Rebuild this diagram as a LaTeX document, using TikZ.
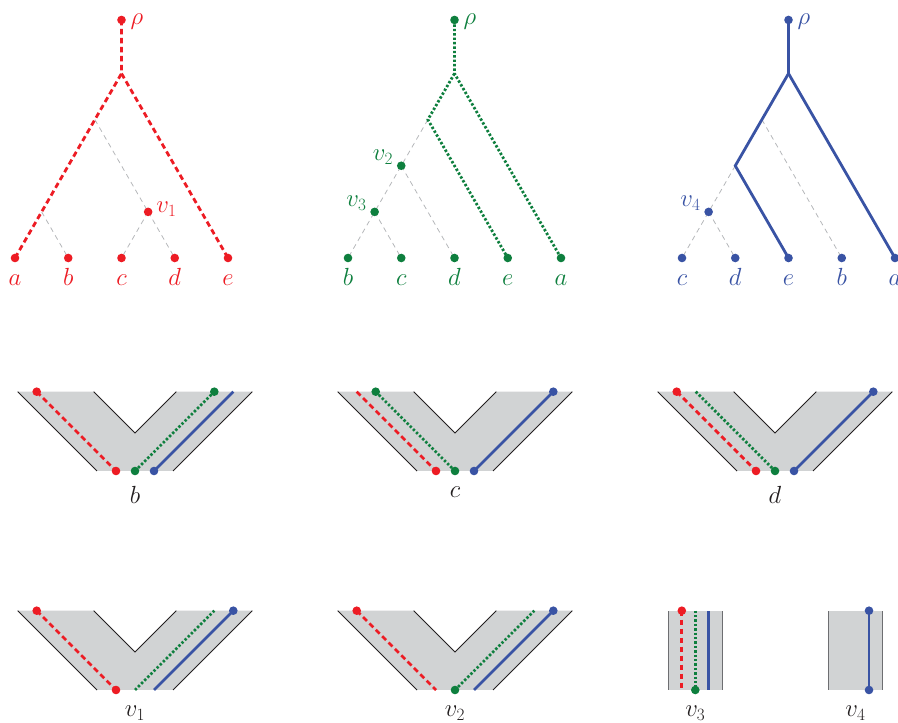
\documentclass[tikz,border=0pt]{standalone}
\usepackage{xcolor}
\definecolor{cred}{HTML}{ED1C24}
\definecolor{cgreen}{HTML}{0E7F3E}
\definecolor{cblue}{HTML}{3953A4}
\definecolor{cfill}{HTML}{D1D3D4}
\definecolor{cgrayl}{HTML}{B5B7BA}
\definecolor{cedge}{HTML}{6D6E71}
\definecolor{ctext}{HTML}{231F20}
\tikzset{
  redpath/.style={cred, line width=2.8bp, dash pattern=on 5.5bp off 3.5bp},
  greenpath/.style={cgreen, line width=2.8bp, dash pattern=on 2.4bp off 2bp},
  bluepath/.style={cblue, line width=2.8bp},
  graypath/.style={cgrayl, line width=0.8bp, dash pattern=on 5bp off 4bp},
  dotnode/.style={circle, inner sep=0pt, minimum size=8.6bp},
  lbl/.style={font=\fontsize{24}{28}\selectfont, inner sep=0pt},
  paneledge/.style={ctext, line width=0.8bp},
  rectedge/.style={cedge, line width=1.5bp},
  vband/.pic={
    \fill[cfill] (-117.3,79.3) -- (-38,0) -- (38,0) -- (117.3,79.3) -- (41.3,79.3) -- (0,38) -- (-41.3,79.3) -- cycle;
    \draw[paneledge] (-117.3,79.3) -- (-38,0);
    \draw[paneledge] (38,0) -- (117.3,79.3);
    \draw[paneledge] (-41.3,79.3) -- (0,38) -- (41.3,79.3);
  },
}
\begin{document}
\begin{tikzpicture}[x=1bp,y=1bp]
\useasboundingbox (0,0) rectangle (898,723);

% ---------------- Tree 1 (red) ----------------
\begin{scope}[shift={(15bp,465bp)}, x=53.25bp, y=53.25bp]
  \coordinate (A1) at (0,0);
  \coordinate (B1) at (1,0);
  \coordinate (C1) at (2,0);
  \coordinate (D1) at (3,0);
  \coordinate (E1) at (4,0);
  \coordinate (ab1) at (0.5,0.866);
  \coordinate (v1) at (2.5,0.866);
  \coordinate (abcd1) at (1.5,2.598);
  \coordinate (r1) at (2,3.464);
  \coordinate (rho1) at (2,4.47);
  \draw[graypath] (ab1) -- (B1);
  \draw[graypath] (abcd1) -- (v1);
  \draw[graypath] (v1) -- (C1);
  \draw[graypath] (v1) -- (D1);
  \draw[redpath] (rho1) -- (r1) -- (A1);
  \draw[redpath] (r1) -- (E1);
  \foreach \n in {A1,B1,C1,D1,E1,v1,rho1} \node[dotnode, fill=cred] (d\n) at (\n) {};
  \node[lbl, text=cred, anchor=base] (lA1) at ([yshift=-28bp]A1) {$a$};
  \node[lbl, text=cred, anchor=base] (lB1) at ([yshift=-28bp]B1) {$b$};
  \node[lbl, text=cred, anchor=base] (lC1) at ([yshift=-28bp]C1) {$c$};
  \node[lbl, text=cred, anchor=base] (lD1) at ([yshift=-28bp]D1) {$d$};
  \node[lbl, text=cred, anchor=base] (lE1) at ([yshift=-28bp]E1) {$e$};
  \node[lbl, text=cred, anchor=base west] (lrho1) at ([xshift=9bp,yshift=-4.5bp]rho1) {$\rho$};
  \node[lbl, text=cred, anchor=base west] (lv1) at ([xshift=8bp,yshift=-1bp]v1) {$v_1$};
\end{scope}

% ---------------- Tree 2 (green) ----------------
\begin{scope}[shift={(348bp,465bp)}, x=53.25bp, y=53.25bp]
  \coordinate (B2) at (0,0);
  \coordinate (C2) at (1,0);
  \coordinate (D2) at (2,0);
  \coordinate (E2) at (3,0);
  \coordinate (A2) at (4,0);
  \coordinate (v3) at (0.5,0.866);
  \coordinate (v2) at (1,1.732);
  \coordinate (j2) at (1.5,2.598);
  \coordinate (r2) at (2,3.464);
  \coordinate (rho2) at (2,4.47);
  \draw[graypath] (j2) -- (v2) -- (v3) -- (B2);
  \draw[graypath] (v3) -- (C2);
  \draw[graypath] (v2) -- (D2);
  \draw[greenpath] (rho2) -- (r2) -- (A2);
  \draw[greenpath] (r2) -- (j2) -- (E2);
  \foreach \n in {A2,B2,C2,D2,E2,v2,v3,rho2} \node[dotnode, fill=cgreen] (d\n) at (\n) {};
  \node[lbl, text=cgreen, anchor=base] (lB2) at ([yshift=-28bp]B2) {$b$};
  \node[lbl, text=cgreen, anchor=base] (lC2) at ([yshift=-28bp]C2) {$c$};
  \node[lbl, text=cgreen, anchor=base] (lD2) at ([yshift=-28bp]D2) {$d$};
  \node[lbl, text=cgreen, anchor=base] (lE2) at ([yshift=-28bp]E2) {$e$};
  \node[lbl, text=cgreen, anchor=base] (lA2) at ([yshift=-28bp]A2) {$a$};
  \node[lbl, text=cgreen, anchor=base west] (lrho2) at ([xshift=9bp,yshift=-4.5bp]rho2) {$\rho$};
  \node[lbl, text=cgreen, anchor=base east] (lv2) at ([xshift=-8bp,yshift=5bp]v2) {$v_2$};
  \node[lbl, text=cgreen, anchor=base east] (lv3) at ([xshift=-8bp,yshift=5bp]v3) {$v_3$};
\end{scope}

% ---------------- Tree 3 (blue) ----------------
\begin{scope}[shift={(682bp,465bp)}, x=53.25bp, y=53.25bp]
  \coordinate (C3) at (0,0);
  \coordinate (D3) at (1,0);
  \coordinate (E3) at (2,0);
  \coordinate (B3) at (3,0);
  \coordinate (A3) at (4,0);
  \coordinate (v4) at (0.5,0.866);
  \coordinate (k3) at (1,1.732);
  \coordinate (j3) at (1.5,2.598);
  \coordinate (r3) at (2,3.464);
  \coordinate (rho3) at (2,4.47);
  \draw[graypath] (j3) -- (B3);
  \draw[graypath] (k3) -- (v4) -- (C3);
  \draw[graypath] (v4) -- (D3);
  \draw[bluepath] (rho3) -- (r3) -- (A3);
  \draw[bluepath] (r3) -- (k3) -- (E3);
  \foreach \n in {A3,B3,C3,D3,E3,v4,rho3} \node[dotnode, fill=cblue] (d\n) at (\n) {};
  \node[lbl, text=cblue, anchor=base] (lC3) at ([yshift=-28bp]C3) {$c$};
  \node[lbl, text=cblue, anchor=base] (lD3) at ([yshift=-28bp]D3) {$d$};
  \node[lbl, text=cblue, anchor=base] (lE3) at ([yshift=-28bp]E3) {$e$};
  \node[lbl, text=cblue, anchor=base] (lB3) at ([yshift=-28bp]B3) {$b$};
  \node[lbl, text=cblue, anchor=base] (lA3) at ([yshift=-28bp]A3) {$a$};
  \node[lbl, text=cblue, anchor=base west] (lrho3) at ([xshift=9bp,yshift=-4.5bp]rho3) {$\rho$};
  \node[lbl, text=cblue, anchor=base east] (lv4) at ([xshift=-8bp,yshift=5bp]v4) {$v_4$};
\end{scope}

% ---------------- Panel b ----------------
\begin{scope}[shift={(135bp,252bp)}]
  \pic (pb) {vband};
  \coordinate (pbR0) at (-19,0);  \coordinate (pbR1) at (-98.3,79.3);
  \coordinate (pbG0) at (0,0);    \coordinate (pbG1) at (79.3,79.3);
  \coordinate (pbB0) at (19,0);   \coordinate (pbB1) at (98.3,79.3);
  \draw[redpath] (pbR1) -- (pbR0);
  \draw[greenpath] (pbG0) -- (pbG1);
  \draw[bluepath] (pbB0) -- (pbB1);
  \node[dotnode, fill=cred] (dpbR0) at (pbR0) {};
  \node[dotnode, fill=cred] (dpbR1) at (pbR1) {};
  \node[dotnode, fill=cgreen] (dpbG0) at (pbG0) {};
  \node[dotnode, fill=cgreen] (dpbG1) at (pbG1) {};
  \node[dotnode, fill=cblue] (dpbB0) at (pbB0) {};
  \node[lbl, text=ctext, anchor=base] (lpb) at (0,-32.3) {$b$};
\end{scope}

% ---------------- Panel c ----------------
\begin{scope}[shift={(455bp,252bp)}]
  \pic (pc) {vband};
  \coordinate (pcR0) at (-19,0);  \coordinate (pcR1) at (-98.3,79.3);
  \coordinate (pcG0) at (0,0);    \coordinate (pcG1) at (-79.3,79.3);
  \coordinate (pcB0) at (19,0);   \coordinate (pcB1) at (98.3,79.3);
  \draw[redpath] (pcR1) -- (pcR0);
  \draw[greenpath] (pcG1) -- (pcG0);
  \draw[bluepath] (pcB0) -- (pcB1);
  \node[dotnode, fill=cred] (dpcR0) at (pcR0) {};
  \node[dotnode, fill=cgreen] (dpcG0) at (pcG0) {};
  \node[dotnode, fill=cgreen] (dpcG1) at (pcG1) {};
  \node[dotnode, fill=cblue] (dpcB0) at (pcB0) {};
  \node[dotnode, fill=cblue] (dpcB1) at (pcB1) {};
  \node[lbl, text=ctext, anchor=base] (lpc) at (0,-26.7) {$c$};
\end{scope}

% ---------------- Panel d ----------------
\begin{scope}[shift={(775bp,252bp)}]
  \pic (pd) {vband};
  \coordinate (pdR0) at (-19,0);  \coordinate (pdR1) at (-98.3,79.3);
  \coordinate (pdG0) at (0,0);    \coordinate (pdG1) at (-79.3,79.3);
  \coordinate (pdB0) at (19,0);   \coordinate (pdB1) at (98.3,79.3);
  \draw[redpath] (pdR1) -- (pdR0);
  \draw[greenpath] (pdG1) -- (pdG0);
  \draw[bluepath] (pdB0) -- (pdB1);
  \node[dotnode, fill=cred] (dpdR0) at (pdR0) {};
  \node[dotnode, fill=cred] (dpdR1) at (pdR1) {};
  \node[dotnode, fill=cgreen] (dpdG0) at (pdG0) {};
  \node[dotnode, fill=cblue] (dpdB0) at (pdB0) {};
  \node[dotnode, fill=cblue] (dpdB1) at (pdB1) {};
  \node[lbl, text=ctext, anchor=base] (lpd) at (0,-32.3) {$d$};
\end{scope}

% ---------------- Panel v1 ----------------
\begin{scope}[shift={(135bp,33bp)}]
  \pic (pe) {vband};
  \coordinate (peR0) at (-19,0);  \coordinate (peR1) at (-98.3,79.3);
  \coordinate (peG0) at (0,0);    \coordinate (peG1) at (79.3,79.3);
  \coordinate (peB0) at (19,0);   \coordinate (peB1) at (98.3,79.3);
  \draw[redpath] (peR1) -- (peR0);
  \draw[greenpath] (peG0) -- (peG1);
  \draw[bluepath] (peB0) -- (peB1);
  \node[dotnode, fill=cred] (dpeR0) at (peR0) {};
  \node[dotnode, fill=cred] (dpeR1) at (peR1) {};
  \node[dotnode, fill=cblue] (dpeB1) at (peB1) {};
  \node[lbl, text=ctext, anchor=base] (lpe) at (0,-27) {$v_1$};
\end{scope}

% ---------------- Panel v2 ----------------
\begin{scope}[shift={(455bp,33bp)}]
  \pic (pf) {vband};
  \coordinate (pfR0) at (-19,0);  \coordinate (pfR1) at (-98.3,79.3);
  \coordinate (pfG0) at (0,0);    \coordinate (pfG1) at (79.3,79.3);
  \coordinate (pfB0) at (19,0);   \coordinate (pfB1) at (98.3,79.3);
  \draw[redpath] (pfR1) -- (pfR0);
  \draw[greenpath] (pfG0) -- (pfG1);
  \draw[bluepath] (pfB0) -- (pfB1);
  \node[dotnode, fill=cred] (dpfR1) at (pfR1) {};
  \node[dotnode, fill=cgreen] (dpfG0) at (pfG0) {};
  \node[dotnode, fill=cblue] (dpfB1) at (pfB1) {};
  \node[lbl, text=ctext, anchor=base] (lpf) at (0,-27) {$v_2$};
\end{scope}

% ---------------- Panel v3 ----------------
\begin{scope}[shift={(695.3bp,33bp)}]
  \fill[cfill] (-27,0) rectangle (27,79.3);
  \coordinate (pgL0) at (-27,0); \coordinate (pgL1) at (-27,79.3);
  \coordinate (pgK0) at (27,0);  \coordinate (pgK1) at (27,79.3);
  \draw[rectedge] (pgL0) -- (pgL1);
  \draw[rectedge] (pgK0) -- (pgK1);
  \coordinate (pgR0) at (-13.5,0); \coordinate (pgR1) at (-13.5,79.3);
  \coordinate (pgG0) at (0,0);     \coordinate (pgG1) at (0,79.3);
  \coordinate (pgB0) at (13.5,0);  \coordinate (pgB1) at (13.5,79.3);
  \draw[redpath] (pgR1) -- (pgR0);
  \draw[greenpath] (pgG1) -- (pgG0);
  \draw[bluepath] (pgB0) -- (pgB1);
  \node[dotnode, fill=cred] (dpgR1) at (pgR1) {};
  \node[dotnode, fill=cgreen] (dpgG0) at (pgG0) {};
  \node[lbl, text=ctext, anchor=base] (lpg) at (0,-27) {$v_3$};
\end{scope}

% ---------------- Panel v4 ----------------
\begin{scope}[shift={(855.5bp,33bp)}]
  \fill[cfill] (-27,0) rectangle (27,79.3);
  \coordinate (phL0) at (-27,0); \coordinate (phL1) at (-27,79.3);
  \coordinate (phK0) at (27,0);  \coordinate (phK1) at (27,79.3);
  \draw[rectedge] (phL0) -- (phL1);
  \draw[rectedge] (phK0) -- (phK1);
  \coordinate (phB0) at (13.5,0);  \coordinate (phB1) at (13.5,79.3);
  \draw[bluepath] (phB0) -- (phB1);
  \node[dotnode, fill=cblue] (dphB0) at (phB0) {};
  \node[dotnode, fill=cblue] (dphB1) at (phB1) {};
  \node[lbl, text=ctext, anchor=base] (lph) at (0,-27) {$v_4$};
\end{scope}
\end{tikzpicture}
\end{document}
